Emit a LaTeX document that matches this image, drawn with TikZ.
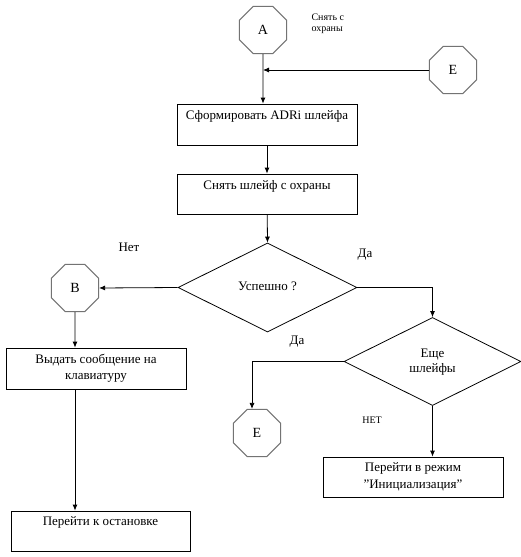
\documentclass[tikz,border=0pt]{standalone}
\usepackage{fontspec}
\setmainfont{Liberation Serif}
\usetikzlibrary{shapes.geometric,arrows.meta}
\newcommand\bxtxt[3]{\parbox[c][#2pt][t]{#1pt}{\centering\vspace*{6pt}#3\par}}
\begin{document}
\begin{tikzpicture}[x=1pt,y=-1pt,
 font=\fontsize{13}{16.5}\selectfont,
 arr/.style={-{Latex[length=6pt,width=5pt]}, line width=0.8pt},
 oct/.style={regular polygon, regular polygon sides=8, draw=black!55, line width=1pt, minimum size=51pt, inner sep=0pt, font=\fontsize{14}{16}\selectfont},
 box/.style={draw, line width=0.8pt, inner sep=0pt},
 dia/.style={diamond, draw, line width=0.8pt, minimum width=179pt, minimum height=89pt, inner sep=0pt},
 small/.style={font=\fontsize{10}{11.5}\selectfont}]
\useasboundingbox (0,0) rectangle (520,557);
% nodes
\node[oct] (A) at (263,30) {A};
\node[small, align=left, anchor=north west] (lblA) at (308,10) {Снять с\\охраны};
\node[oct] (E1) at (453,70) {E};
\node[box] (b1) at (267,124.5) {\bxtxt{180}{41}{Сформировать ADRi шлейфа}};
\node[box] (b2) at (267,194) {\bxtxt{180}{40}{Снять шлейф с охраны}};
\node[dia] (d1) at (267.5,287.5) {\raisebox{2pt}{Успешно ?}};
\node (no1) at (129,247) {Нет};
\node (yes1) at (365,255) {Да};
\node[oct] (B) at (75,288) {B};
\node[box] (b3) at (96,368.5) {\bxtxt{180}{41}{Выдать сообщение на\\клавиатуру}};
\node[box] (b4) at (100.5,531) {\bxtxt{179}{40}{Перейти к остановке}};
\node[dia, minimum width=177pt, minimum height=88pt] (d2) at (432.5,361.5) {\raisebox{3pt}{\begin{tabular}{@{}c@{}}Еще\\[-1pt]шлейфы\end{tabular}}};
\node (yes2) at (297,342) {Да};
\node[oct] (E2) at (257,433) {E};
\node[small] (no2) at (372,420) {НЕТ};
\node[box] (b5) at (413,477) {\bxtxt{180}{40}{Перейти в режим\\\char34Инициализация\char34}};
% connectors
\draw[arr] (A) -- (A|-b1.north);
\draw[arr] (E1.west) -- (E1.west-|A);
\draw[arr] (b1) -- (b2);
\draw[arr] (b2) -- (d1.north);
\draw[arr] (d1.west) -- (B.east);
\draw[arr] (B) -- (B|-b3.north);
\draw[arr] (B|-b3.south) -- (B|-b4.north);
\draw[arr] (d1.east) -| (d2.north);
\draw[arr] (d2.west) -| ([xshift=-5pt]E2.north);
\draw[arr] (d2.south) -- (d2.south|-b5.north);
\end{tikzpicture}
\end{document}
